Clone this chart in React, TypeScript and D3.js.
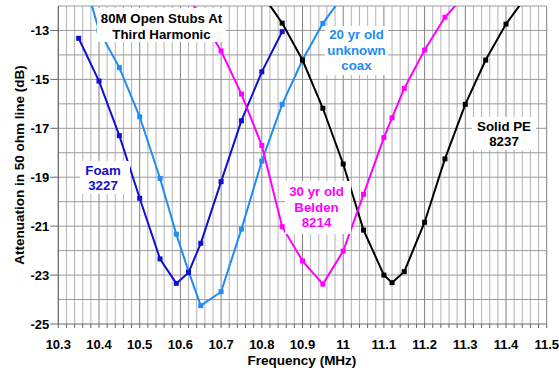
import React from 'react';
import * as d3 from 'd3';

// measured stub attenuation, dB vs MHz
const foamFreq = [10.35, 10.4, 10.45, 10.5, 10.55, 10.59, 10.62, 10.65, 10.7, 10.75, 10.8, 10.85];
const foamDb = [-13.32, -15.07, -17.3, -19.86, -22.34, -23.34, -22.9, -21.7, -19.18, -16.69, -14.69, -13.05];

const coaxFreq = [10.35, 10.4, 10.45, 10.5, 10.55, 10.59, 10.62, 10.65, 10.7, 10.75, 10.8, 10.85, 10.9, 10.95, 11.0];
const coaxDb = [-10.1, -13.0, -14.52, -16.53, -19.05, -21.33, -22.85, -24.25, -23.68, -21.12, -18.34, -16.02, -14.21, -12.71, -11.57];

const beldenFreq = [10.6, 10.65, 10.7, 10.75, 10.8, 10.85, 10.9, 10.95, 11.0, 11.05, 11.1, 11.12, 11.15, 11.2, 11.25, 11.3];
const beldenDb = [-11.1, -12.45, -13.84, -15.6, -17.7, -21.02, -22.42, -23.37, -22.02, -19.7, -17.38, -16.57, -15.37, -13.8, -12.46, -11.53];

const solidFreq = [10.8, 10.85, 10.9, 10.95, 11.0, 11.05, 11.1, 11.12, 11.15, 11.2, 11.25, 11.3, 11.35, 11.4, 11.45];
const solidDb = [-11.5, -12.7, -14.21, -16.18, -18.46, -21.16, -23.0, -23.31, -22.86, -20.84, -18.25, -16.02, -14.21, -12.74, -11.6];

const xTickLabels = ['10.3', '10.4', '10.5', '10.6', '10.7', '10.8', '10.9', '11', '11.1', '11.2', '11.3', '11.4', '11.5'];
const yTickLabels = [-13, -15, -17, -19, -21, -23, -25];

const W = 559;
const H = 373;
const plot = { left: 58.3, right: 546.7, top: 6, bottom: 324 };
const font = '"Liberation Sans", Arial, sans-serif';

const series = [
  { name: 'coax', freq: coaxFreq, db: coaxDb, color: '#1E8CF0' },
  { name: 'foam', freq: foamFreq, db: foamDb, color: '#1010D0' },
  { name: 'solid', freq: solidFreq, db: solidDb, color: '#000000' },
  { name: 'belden', freq: beldenFreq, db: beldenDb, color: '#FF00FF' },
];

const labels = [
  { lines: ['80M Open Stubs At', 'Third Harmonic'], cx: 161.5, y0: 18.5, color: '#000', box: [97, 8, 129, 34] },
  { lines: ['20 yr old', 'unknown', 'coax'], cx: 356.5, y0: 34.5, color: '#1E8CF0', box: [325, 26, 63, 49] },
  { lines: ['Foam', '3227'], cx: 103, y0: 170, color: '#1010D0', box: [80, 161, 50, 33] },
  { lines: ['30 yr old', 'Belden', '8214'], cx: 316.5, y0: 191.5, color: '#FF00FF', box: [285, 181, 66, 53] },
  { lines: ['Solid PE', '8237'], cx: 504, y0: 126, color: '#000', box: [472, 117, 64, 33] },
];

export default function App() {
  const x = d3.scaleLinear().domain([10.3, 11.5]).range([plot.left, plot.right]);
  const y = d3.scaleLinear().domain([-25, -12]).range([plot.bottom, plot.top]);

  const minor = d3.range(0, 61).map((i) => 10.3 + i * 0.02);
  const hLines = d3.range(-24, -11, 1);

  const line = d3.line<[number, number]>()
    .x((d) => x(d[0]))
    .y((d) => y(d[1]));

  return (
    <svg width={W} height={H} style={{ position: 'absolute', left: 0, top: 0, background: '#fff' }}
      fontFamily={font} fontWeight="bold">
      <defs>
        <clipPath id="plotclip">
          <rect x={plot.left} y={plot.top} width={plot.right - plot.left} height={plot.bottom - plot.top} />
        </clipPath>
      </defs>

      {/* grid */}
      {minor.map((f, i) => (
        <line key={'v' + i} x1={x(f)} x2={x(f)} y1={plot.top} y2={plot.bottom}
          stroke={i % 5 === 0 ? '#808080' : '#b4b4b4'} strokeWidth={1} />
      ))}
      {hLines.map((v) => (
        <line key={'h' + v} x1={plot.left} x2={plot.right} y1={y(v)} y2={y(v)}
          stroke="#999" strokeWidth={1} />
      ))}

      {/* axes */}
      <line x1={plot.left} x2={plot.left} y1={plot.top} y2={plot.bottom} stroke="#666" />
      <line x1={plot.left} x2={plot.right} y1={plot.bottom} y2={plot.bottom} stroke="#666" />
      {minor.map((f, i) => (
        <line key={'xt' + i} x1={x(f)} x2={x(f)} y1={plot.bottom} y2={plot.bottom + 4} stroke="#666" />
      ))}
      {yTickLabels.map((v) => (
        <g key={'yt' + v}>
          <line x1={plot.left - 8} x2={plot.left} y1={y(v)} y2={y(v)} stroke="#666" />
          <text x={plot.left - 9} y={y(v)} dy="0.35em" textAnchor="end" fontSize={13}>{v}</text>
        </g>
      ))}
      {xTickLabels.map((t) => (
        <text key={'xl' + t} x={x(+t)} y={349} textAnchor="middle" fontSize={13}>{t}</text>
      ))}

      {/* series */}
      <g clipPath="url(#plotclip)">
        {series.map((s) => {
          const pts = s.freq.map((f, i) => [f, s.db[i]] as [number, number]);
          return (
            <g key={s.name}>
              <path d={line(pts) || ''} fill="none" stroke={s.color} strokeWidth={2} />
              {pts.map((p, i) => (
                <rect key={i} x={x(p[0]) - 2.5} y={y(p[1]) - 2.5} width={5} height={5} fill={s.color} />
              ))}
            </g>
          );
        })}
      </g>

      {/* labels */}
      {labels.map((l, k) => (
        <g key={'lb' + k}>
          <rect x={l.box[0]} y={l.box[1]} width={l.box[2]} height={l.box[3]} fill="#fff" />
          {l.lines.map((t, i) => (
            <text key={i} x={l.cx} y={l.y0 + i * 15.6} dy="0.35em" textAnchor="middle"
              fontSize={13.3} fill={l.color}>{t}</text>
          ))}
        </g>
      ))}

      {/* axis titles */}
      <text transform="translate(24,165) rotate(-90)" textAnchor="middle" fontSize={13.5}>
        Attenuation in 50 ohm line (dB)
      </text>
      <text x={302} y={365} textAnchor="middle" fontSize={13.5}>Frequency (MHz)</text>
    </svg>
  );
}
